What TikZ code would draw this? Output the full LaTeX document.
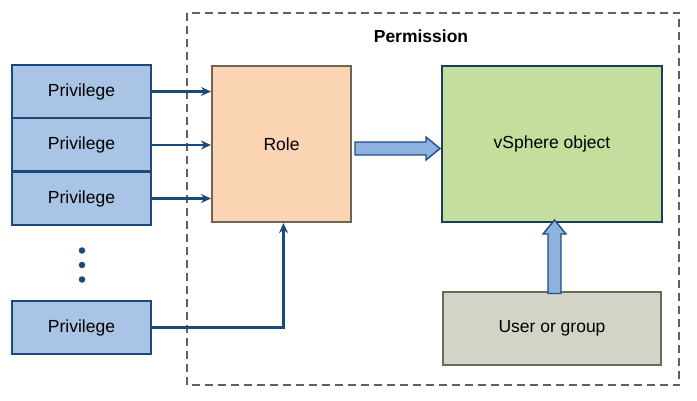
\documentclass[tikz,border=0pt]{standalone}
\usepackage{fontspec}
\setmainfont{Liberation Sans}
\usetikzlibrary{arrows.meta,calc}
\definecolor{privfill}{HTML}{A9C4E4}
\definecolor{privdraw}{HTML}{1A4A7A}
\definecolor{rolefill}{HTML}{FBD4B4}
\definecolor{roledraw}{HTML}{6E6450}
\definecolor{objfill}{HTML}{C5DE9E}
\definecolor{objdraw}{HTML}{173F5F}
\definecolor{userfill}{HTML}{D3D3C7}
\definecolor{userdraw}{HTML}{6A6A5E}
\definecolor{bigfill}{HTML}{8EB2DE}
\definecolor{bigdraw}{HTML}{1F4E8A}
\definecolor{dashgray}{HTML}{606060}
\tikzset{
  lbl/.style={font=\fontsize{17.5}{20}\selectfont},
  privbox/.style={draw=privdraw, fill=privfill, line width=2pt, minimum width=139pt, minimum height=53pt, inner sep=0pt, lbl},
  rolebox/.style={draw=roledraw, fill=rolefill, line width=2pt, minimum width=139pt, minimum height=156pt, inner sep=0pt, lbl},
  objbox/.style={draw=objdraw, fill=objfill, line width=2pt, minimum width=220pt, minimum height=156pt, inner sep=0pt, lbl},
  userbox/.style={draw=userdraw, fill=userfill, line width=2pt, minimum width=218pt, minimum height=73pt, inner sep=0pt, lbl},
  conn/.style={draw=privdraw, line width=2.2pt, -{Stealth[length=10pt,width=9pt]}},
  bigarrow/.style={draw=bigdraw, fill=bigfill, line width=1.4pt, line join=miter},
  dotsty/.style={circle, fill=privdraw, inner sep=0pt, minimum size=6.5pt}
}
\begin{document}
\begin{tikzpicture}[x=1pt,y=-1pt]
\useasboundingbox (0,0) rectangle (697,401);
\fill[white] (0,0) rectangle (697,401);
% permission frame
\draw[dashgray, line width=2pt, dash pattern=on 8pt off 5pt] (186.5,13) rectangle (679,385);
\node[font=\bfseries\fontsize{17.5}{20}\selectfont] (perm) at (421,36) {Permission};
% privileges
\node[privbox] (p1) at (81.5,91.5) {Privilege};
\node[privbox] (p2) at (81.5,145) {Privilege};
\node[privbox] (p3) at (81.5,198.5) {Privilege};
\node[privbox] (p4) at (81.5,327.5) {Privilege};
\node[dotsty] (d1) at (82,250.5) {};
\node[dotsty] (d2) at (82,265) {};
\node[dotsty] (d3) at (82,279.5) {};
% role and object
\node[rolebox] (role) at (281.5,144) {Role};
\node[objbox] (obj) at (552,144) {vSphere object};
\node[userbox] (user) at (552,328) {User or group};
% connectors
\draw[conn] (p1.east) -- (p1.east -| role.west);
\draw[conn] (p2.east) -- (p2.east -| role.west);
\draw[conn] (p3.east) -- (p3.east -| role.west);
\coordinate (rb4) at ([xshift=2pt]role.south);
\draw[conn] (p4.east) -| (rb4);
% big arrow role -> object
\coordinate (ra) at ([xshift=3pt,yshift=-4.5pt]role.east);
\coordinate (rt) at ([xshift=-1pt,yshift=-4.5pt]obj.west);
\draw[bigarrow] ($(ra)+(0,-6.5)$) -- ($(rt)+(-14,-6.5)$) -- ($(rt)+(-14,-11.5)$) -- (rt)
  -- ($(rt)+(-14,11.5)$) -- ($(rt)+(-14,6.5)$) -- ($(ra)+(0,6.5)$) -- cycle;
% big arrow user -> object
\coordinate (ua) at ([xshift=2.5pt,yshift=-3pt]user.north);
\coordinate (ut) at ([xshift=2.5pt,yshift=3pt]obj.south);
\draw[bigarrow] ($(ua)+(-6.5,0)$) -- ($(ut)+(-6.5,14)$) -- ($(ut)+(-11.5,14)$) -- (ut)
  -- ($(ut)+(11.5,14)$) -- ($(ut)+(6.5,14)$) -- ($(ua)+(6.5,0)$) -- cycle;
\end{tikzpicture}
\end{document}
